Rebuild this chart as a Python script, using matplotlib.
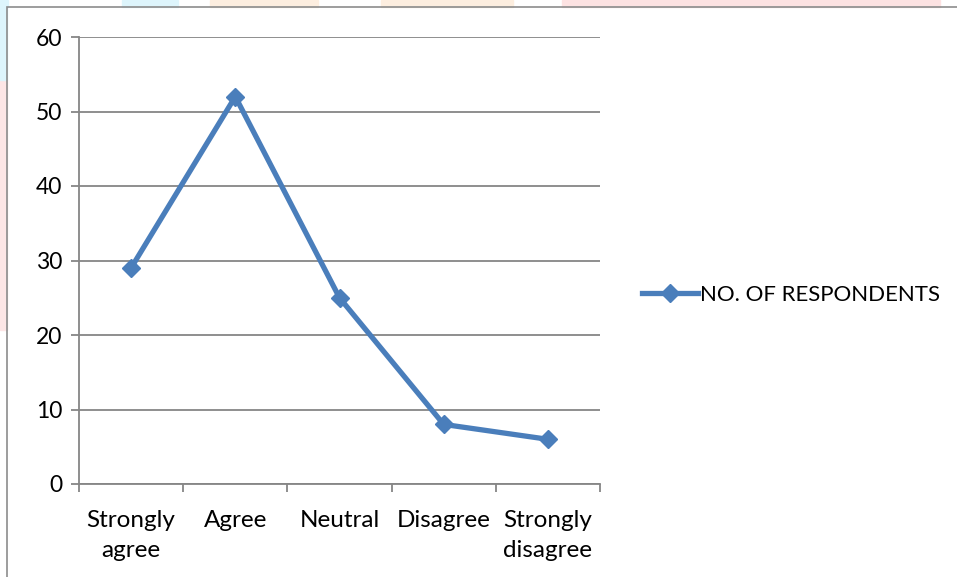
import matplotlib.pyplot as plt
from matplotlib.patches import Rectangle

categories = ['Strongly\nagree', 'Agree', 'Neutral', 'Disagree', 'Strongly\ndisagree']
respondents = [29, 52, 25, 8, 6]
series_name = 'NO. OF RESPONDENTS'

plt.rcParams['font.family'] = ['Lato', 'DejaVu Sans']

W, H = 957, 577
fig = plt.figure(figsize=(W / 100, H / 100), dpi=100)

# faint coloured strips along the top and left edges
for x0, x1, c in [(0, 8, '#ddf5fc'), (122, 178, '#ddf5fc'), (210, 318, '#fdeedf'),
                  (381, 513, '#fdeedf'), (562, 940, '#fde2e2')]:
    fig.patches.append(Rectangle((x0 / W, 1 - 7 / H), (x1 - x0) / W, 7 / H,
                                 transform=fig.transFigure, color=c, zorder=0))
fig.patches.append(Rectangle((0, 1 - 330 / H), 7 / W, 250 / H,
                             transform=fig.transFigure, color='#fde6e6', zorder=0))
fig.patches.append(Rectangle((0, 1 - 80 / H), 7 / W, 73 / H,
                             transform=fig.transFigure, color='#ddf5fc', zorder=0))

# chart frame
fig.patches.append(Rectangle((7 / W, -0.05), 1.0, 1.05 - 7 / H, transform=fig.transFigure,
                             fill=False, edgecolor='#8c8c8c', linewidth=1.2, zorder=1))

ax = fig.add_axes([79 / W, 1 - 484 / H, 521 / W, 447 / H])
x = range(len(categories))
ax.plot(x, respondents, color='#4a7ebb', linewidth=3.8, marker='D', markersize=9,
        label=series_name, zorder=3)

ax.set_xlim(-0.5, len(categories) - 0.5)
ax.set_ylim(0, 60)
ax.set_yticks(range(0, 61, 10))
ax.set_xticks(x)
ax.set_xticklabels(categories, fontsize=17.5, linespacing=1.5)
ax.set_xticks([i - 0.5 for i in range(len(categories) + 1)], minor=True)
ax.tick_params(axis='x', which='major', length=0, pad=19)
ax.tick_params(axis='x', which='minor', length=6, color='#868686', width=1.3, direction='out')
ax.tick_params(axis='y', length=6, color='#868686', width=1.3, labelsize=16.5, pad=6)
ax.grid(axis='y', color='#868686', linewidth=1.3)
ax.set_axisbelow(True)
for side in ['top', 'right']:
    ax.spines[side].set_visible(False)
for side in ['left', 'bottom']:
    ax.spines[side].set_color('#868686')
    ax.spines[side].set_linewidth(1.3)

fig.legend(loc='center left', bbox_to_anchor=(622 / W, 1 - 295 / H), frameon=False,
           fontsize=16, handlelength=2.5, handletextpad=0.1)

fig.savefig('out.png', dpi=100)
